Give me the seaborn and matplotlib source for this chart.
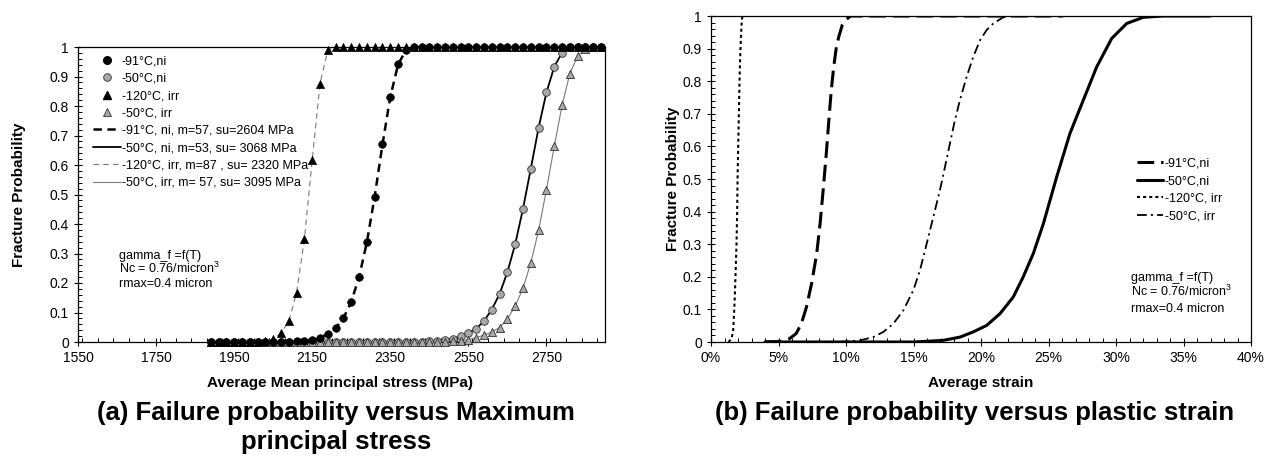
import matplotlib
matplotlib.use("Agg")
import matplotlib.pyplot as plt
import seaborn as sns
from matplotlib.lines import Line2D
from matplotlib.ticker import MultipleLocator, FuncFormatter, FixedLocator

# ---------------- data: panel (a) ----------------
stress_grid = [1890, 1910, 1930, 1950, 1970, 1990, 2010, 2030, 2050, 2070,
               2090, 2110, 2130, 2150, 2170, 2190, 2210, 2230, 2250, 2270,
               2290, 2310, 2330, 2350, 2370, 2390, 2410, 2430, 2450, 2470,
               2490, 2510, 2530, 2550, 2570, 2590, 2610, 2630, 2650, 2670,
               2690, 2710, 2730, 2750, 2770, 2790, 2810, 2830, 2850, 2870,
               2890]
p_91ni = [0, 0, 0, 0, 0, 0, 0, 0, 0, 0.0005,
          0.001, 0.002, 0.004, 0.008, 0.015, 0.027, 0.047, 0.081, 0.136, 0.220,
          0.338, 0.493, 0.670, 0.831, 0.941, 0.989, 1, 1, 1, 1,
          1, 1, 1, 1, 1, 1, 1, 1, 1, 1,
          1, 1, 1, 1, 1, 1, 1, 1, 1, 1,
          1]
p_120irr = [0, 0, 0, 0, 0, 0, 0.001, 0.003, 0.009, 0.031,
            0.070, 0.167, 0.349, 0.618, 0.876, 0.989, 1, 1, 1, 1,
            1, 1, 1, 1, 1, 1, 1, 1, 1, 1,
            1, 1, 1, 1, 1, 1, 1, 1, 1, 1,
            1, 1, 1, 1, 1, 1, 1, 1, 1, 1,
            1]
p_50ni = [0, 0, 0, 0, 0, 0, 0, 0, 0, 0,
          0, 0, 0, 0, 0, 0, 0, 0, 0, 0,
          0, 0, 0, 0, 0, 0, 0, 0.001, 0.002, 0.003,
          0.006, 0.011, 0.019, 0.031, 0.045, 0.071, 0.110, 0.163, 0.237, 0.332,
          0.452, 0.588, 0.727, 0.846, 0.933, 0.981, 0.999, 1, 1, 1,
          1]
p_50irr = [0, 0, 0, 0, 0, 0, 0, 0, 0, 0,
           0, 0, 0, 0, 0, 0, 0, 0, 0, 0,
           0, 0, 0, 0, 0, 0, 0, 0, 0, 0,
           0.001, 0.002, 0.003, 0.008, 0.015, 0.023, 0.034, 0.049, 0.078, 0.122,
           0.182, 0.268, 0.379, 0.516, 0.663, 0.802, 0.910, 0.969, 0.992, 1,
           1]
labels_a = ["-91°C,ni", "-50°C,ni", "-120°C, irr", "-50°C, irr",
            "-91°C, ni, m=57, su=2604 MPa", "-50°C, ni, m=53, su= 3068 MPa",
            "-120°C, irr, m=87 , su= 2320 MPa", "-50°C, irr, m= 57, su= 3095 MPa"]
stress_ticks = [1550, 1750, 1950, 2150, 2350, 2550, 2750]

# ---------------- data: panel (b) (strain in %) ----------------
s_91ni = [4.0, 5.18, 5.81, 6.31, 6.69, 7.07, 7.45, 7.83, 8.08, 8.33, 8.54, 8.71,
          8.91, 9.09, 9.29, 9.47, 9.72, 9.97, 10.35, 26.1]
f_91ni = [0, 0.002, 0.010, 0.026, 0.056, 0.107, 0.179, 0.271, 0.363, 0.476, 0.578, 0.670,
          0.773, 0.844, 0.906, 0.937, 0.972, 0.988, 1.0, 1.0]
s_50ni = [4.0, 15.0, 17.2, 18.44, 19.43, 20.42, 21.41, 22.39, 23.13, 23.87, 24.62, 25.61,
          26.59, 27.58, 28.57, 29.68, 30.79, 32.02, 33.5, 37.0]
f_50ni = [0, 0, 0.005, 0.015, 0.031, 0.051, 0.087, 0.138, 0.200, 0.271, 0.363, 0.507,
          0.640, 0.742, 0.844, 0.931, 0.977, 0.996, 1.0, 1.0]
s_120irr = [1.3, 1.52, 1.64, 1.72, 1.77, 1.82, 1.89, 1.94, 1.97, 2.02, 2.07, 2.12,
            2.17, 2.22, 2.27, 2.32]
f_120irr = [0, 0.010, 0.036, 0.097, 0.148, 0.21, 0.302, 0.404, 0.507, 0.609, 0.711, 0.814,
            0.885, 0.937, 0.977, 0.998]
s_50irr = [9.5, 11.04, 12.02, 12.77, 13.5, 14.25, 14.99, 15.48, 15.98, 16.47, 16.96, 17.33,
           17.7, 18.07, 18.44, 18.94, 19.43, 19.93, 20.42, 20.91, 21.65, 22.15]
f_50irr = [0, 0.005, 0.015, 0.031, 0.056, 0.097, 0.159, 0.220, 0.302, 0.384, 0.466, 0.537,
           0.609, 0.681, 0.742, 0.814, 0.875, 0.926, 0.957, 0.977, 0.996, 1.0]
labels_b = ["-91°C,ni", "-50°C,ni", "-120°C, irr", "-50°C, irr"]
strain_ticks = [0, 5, 10, 15, 20, 25, 30, 35, 40]
prob_ticks = [0, 0.1, 0.2, 0.3, 0.4, 0.5, 0.6, 0.7, 0.8, 0.9, 1.0]

# ---------------- style ----------------
sns.set_style("ticks")
plt.rcParams["font.family"] = ["Liberation Sans", "DejaVu Sans"]
plt.rcParams["mathtext.fontset"] = "custom"
plt.rcParams["mathtext.rm"] = "Liberation Sans"
plt.rcParams["lines.scale_dashes"] = False
plt.rcParams["axes.edgecolor"] = "black"
plt.rcParams["axes.linewidth"] = 0.9
plt.rcParams["text.color"] = "black"
plt.rcParams["axes.labelcolor"] = "black"
plt.rcParams["xtick.color"] = "black"
plt.rcParams["ytick.color"] = "black"

W, H = 1279, 473
fig = plt.figure(figsize=(W / 100, H / 100), dpi=100)
axL = fig.add_axes([78 / W, (H - 342) / H, 527 / W, 295 / H])
axR = fig.add_axes([711 / W, (H - 342) / H, 540 / W, 326 / H])

GRAY_FILL = "#a8a8a8"
GRAY_EDGE = "#303030"
GRAY_LINE = "#7a7a7a"

# ---- panel (a) lines ----
sns.lineplot(x=stress_grid, y=p_50irr, ax=axL, color=GRAY_LINE, lw=0.8, zorder=2)
sns.lineplot(x=stress_grid, y=p_120irr, ax=axL, color=GRAY_LINE, lw=0.8,
             linestyle=(0, (4, 3)), zorder=2)
sns.lineplot(x=stress_grid, y=p_50ni, ax=axL, color="black", lw=1.3, zorder=2)
sns.lineplot(x=stress_grid, y=p_91ni, ax=axL, color="black", lw=1.8,
             linestyle=(0, (6, 4)), zorder=2)
# ---- panel (a) markers ----
sns.scatterplot(x=stress_grid, y=p_50ni, ax=axL, marker="o", s=30, color=GRAY_FILL,
                edgecolor=GRAY_EDGE, linewidth=0.6, clip_on=False, zorder=3)
sns.scatterplot(x=stress_grid, y=p_50irr, ax=axL, marker="^", s=34, color=GRAY_FILL,
                edgecolor=GRAY_EDGE, linewidth=0.6, clip_on=False, zorder=3)
sns.scatterplot(x=stress_grid, y=p_120irr, ax=axL, marker="^", s=34, color="black",
                edgecolor="black", linewidth=0.5, clip_on=False, zorder=4)
sns.scatterplot(x=stress_grid, y=p_91ni, ax=axL, marker="o", s=30, color="black",
                edgecolor="black", linewidth=0.5, clip_on=False, zorder=4)

# ---- panel (b) lines ----
sns.lineplot(x=s_120irr, y=f_120irr, ax=axR, color="black", lw=1.5,
             linestyle=(0, (2.2, 2.2)), sort=False)
sns.lineplot(x=s_50irr, y=f_50irr, ax=axR, color="black", lw=1.3,
             linestyle=(0, (7, 3, 1.5, 3)), sort=False)
sns.lineplot(x=s_50ni, y=f_50ni, ax=axR, color="black", lw=2.2, sort=False)
sns.lineplot(x=s_91ni, y=f_91ni, ax=axR, color="black", lw=2.2,
             linestyle=(0, (12, 5)), sort=False)

fmt = FuncFormatter(lambda v, p: f"{v:g}")
for ax in (axL, axR):
    ax.set_ylim(0, 1)
    ax.yaxis.set_major_locator(FixedLocator(prob_ticks))
    ax.yaxis.set_minor_locator(MultipleLocator(0.02))
    ax.yaxis.set_major_formatter(fmt)
    ax.tick_params(which="major", direction="inout", length=6, width=0.8,
                   labelsize=10, colors="black")
    ax.tick_params(which="minor", direction="in", length=3, width=0.7)
    ax.set_xlabel("")
    ax.set_ylabel("")
    for sp in ax.spines.values():
        sp.set_visible(True)

axL.set_xlim(1550, 2900)
axL.xaxis.set_major_locator(FixedLocator(stress_ticks))
axL.xaxis.set_minor_locator(MultipleLocator(40))
axL.xaxis.set_major_formatter(FuncFormatter(lambda v, p: f"{int(v)}"))

axR.set_xlim(0, 40)
axR.xaxis.set_major_locator(FixedLocator(strain_ticks))
axR.xaxis.set_minor_locator(MultipleLocator(1))
axR.xaxis.set_major_formatter(FuncFormatter(lambda v, p: f"{int(round(v))}%"))

# ---- legends ----
hA = [
    Line2D([], [], ls="none", marker="o", color="black", markersize=5.5),
    Line2D([], [], ls="none", marker="o", mfc=GRAY_FILL, mec=GRAY_EDGE, mew=0.6, markersize=5.5),
    Line2D([], [], ls="none", marker="^", color="black", markersize=6),
    Line2D([], [], ls="none", marker="^", mfc=GRAY_FILL, mec=GRAY_EDGE, mew=0.6, markersize=6),
    Line2D([], [], color="black", lw=1.8, ls=(0, (6, 4))),
    Line2D([], [], color="black", lw=1.3),
    Line2D([], [], color=GRAY_LINE, lw=0.8, ls=(0, (4, 3))),
    Line2D([], [], color=GRAY_LINE, lw=0.8),
]
axL.legend(hA, labels_a, loc="upper left", bbox_to_anchor=(0.0285, 0.972),
           frameon=False, fontsize=9, handlelength=2.2, handletextpad=0.1,
           labelspacing=0.43, borderaxespad=0, borderpad=0, numpoints=1)

hB = [
    Line2D([], [], color="black", lw=2.2, ls=(0, (12, 5))),
    Line2D([], [], color="black", lw=2.2),
    Line2D([], [], color="black", lw=1.5, ls=(0, (2.2, 2.2))),
    Line2D([], [], color="black", lw=1.3, ls=(0, (7, 3, 1.5, 3))),
]
axR.legend(hB, labels_b, loc="upper left", bbox_to_anchor=(0.789, 0.565),
           frameon=False, fontsize=9, handlelength=2.1, handletextpad=0.1,
           labelspacing=0.44, borderaxespad=0, borderpad=0)


def ftext(x, y, s, **kw):
    return fig.text(x / W, 1 - y / H, s, **kw)


# annotations
for (x0, ys) in ((119, (259, 273, 287)), (1131, (281.5, 296.5, 311.5))):
    ftext(x0, ys[0], "gamma_f =f(T)", fontsize=9, ha="left", va="baseline")
    ftext(x0, ys[1], "Nc = 0.76/micron$^{3}$", fontsize=9, ha="left", va="baseline")
    ftext(x0, ys[2], "rmax=0.4 micron", fontsize=9, ha="left", va="baseline")

# axis labels
ftext(340, 383, "Average Mean principal stress (MPa)", fontsize=11, fontweight="bold",
      ha="center", va="center")
ftext(981, 383, "Average strain", fontsize=11, fontweight="bold", ha="center", va="center")
ftext(19, 195, "Fracture Probability", fontsize=11, fontweight="bold", rotation=90,
      ha="center", va="center")
ftext(673, 179, "Fracture Probability", fontsize=11, fontweight="bold", rotation=90,
      ha="center", va="center")

# captions
ftext(336, 413, "(a) Failure probability versus Maximum", fontsize=18.5,
      fontweight="bold", ha="center", va="center")
ftext(336, 442, "principal stress", fontsize=18.5, fontweight="bold",
      ha="center", va="center")
ftext(975, 413, "(b) Failure probability versus plastic strain", fontsize=18.5,
      fontweight="bold", ha="center", va="center")

fig.savefig("out.png", dpi=100)
